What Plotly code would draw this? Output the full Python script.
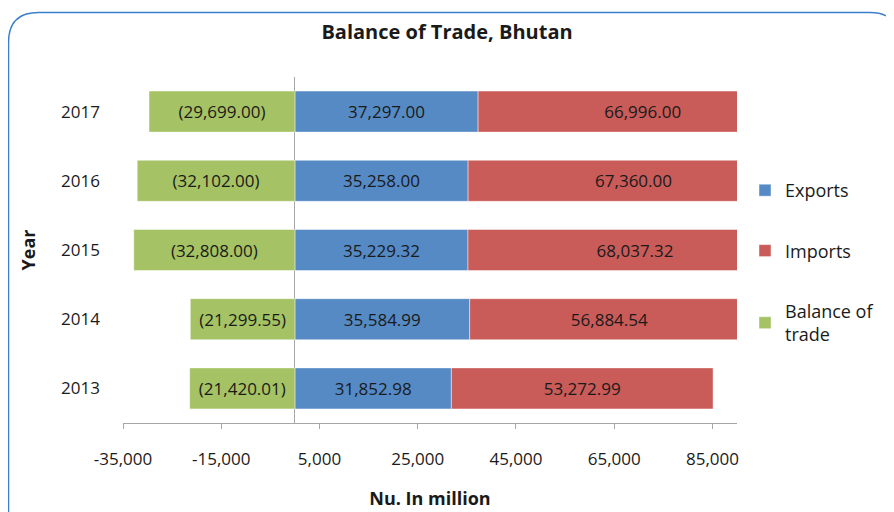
import plotly.graph_objects as go

years = ["2013", "2014", "2015", "2016", "2017"]
exports = [31852.98, 35584.99, 35229.32, 35258.00, 37297.00]
imports = [53272.99, 56884.54, 68037.32, 67360.00, 66996.00]
balance = [-21420.01, -21299.55, -32808.00, -32102.00, -29699.00]
x_tickvals = [-35000, -15000, 5000, 25000, 45000, 65000, 85000]
x_ticktext = ["-35,000", "-15,000", "5,000", "25,000", "45,000", "65,000", "85,000"]


def fmt(v):
    s = f"{abs(v):,.2f}"
    return f"({s})" if v < 0 else s


FONT = "Open Sans"
TXT = "#1a1a1a"

# the page body has an 8px margin; layout is planned in window pixels
OFF = 8
W, H = 894, 512
ML, MR, MT, MB = 123 - OFF, 157 + OFF, 77 - OFF, 89 + OFF
PW, PH = W - ML - MR, H - MT - MB

fig = go.Figure()
series = [
    ("Exports", exports, "#558AC5"),
    ("Imports", imports, "#C95B58"),
    ("Balance of<br>trade", balance, "#A5C264"),
]
for i, (name, vals, col) in enumerate(series):
    fig.add_trace(go.Bar(
        y=years, x=vals, orientation="h", name=name,
        marker=dict(color=col, line=dict(color="rgba(255,255,255,0.45)", width=1)),
        text=[fmt(v) for v in vals], textposition="inside",
        insidetextanchor="middle", textangle=0, constraintext="none",
        textfont=dict(family=FONT, size=17, color=TXT),
        legendgroup=f"g{i}", cliponaxis=True,
    ))


def px(wx):
    return (wx - OFF - ML) / PW


def py(wy):
    return (H - MB - (wy - OFF)) / PH


# rounded frame (visible part: left side, top, top-right corner)
L, T, r = 8.5, 12.5, 30
cx = 870.0
path = (
    f"M {px(L)},{py(H + OFF - 1)} L {px(L)},{py(T + r)} "
    f"Q {px(L)},{py(T)} {px(L + r)},{py(T)} "
    f"L {px(cx)},{py(T)} Q {px(cx + 18)},{py(T)} {px(W)},{py(T + 11)}"
)
fig.add_shape(type="path", path=path, xref="paper", yref="paper",
              line=dict(color="#3A7FCB", width=1.5), layer="above")

fig.update_layout(
    width=W, height=H,
    margin=dict(l=ML, r=MR, t=MT, b=MB),
    paper_bgcolor="white", plot_bgcolor="white",
    barmode="relative", bargap=0.407,
    font=dict(family=FONT, color=TXT),
    title=dict(text="<b>Balance of Trade, Bhutan</b>", x=(447 - OFF) / W, xref="container",
               xanchor="center",
               y=1 - (32 - OFF) / H, yref="container", yanchor="middle",
               font=dict(family=FONT, size=20, color=TXT)),
    legend=dict(x=px(745), xanchor="left", y=py(172), yanchor="top",
                traceorder="grouped", tracegroupgap=34,
                font=dict(family=FONT, size=18, color=TXT),
                bgcolor="rgba(0,0,0,0)"),
    xaxis=dict(range=[-35000, 90000], tickvals=x_tickvals, ticktext=x_ticktext,
               showgrid=False, zeroline=True, zerolinecolor="#A6A6A6", zerolinewidth=1,
               showline=True, linecolor="#A6A6A6", linewidth=1,
               ticks="outside", ticklen=5, tickcolor="#A6A6A6",
               tickfont=dict(family=FONT, size=17, color=TXT),
               ticklabelstandoff=16,
               title=dict(text="<b>Nu. In million</b>", standoff=22,
                          font=dict(family=FONT, size=18, color=TXT))),
    yaxis=dict(categoryorder="array", categoryarray=years,
               showgrid=False, zeroline=False, showline=False, ticks="",
               tickfont=dict(family=FONT, size=17, color=TXT),
               ticklabelstandoff=22,
               title=dict(text="<b>Year</b>", standoff=20,
                          font=dict(family=FONT, size=18, color=TXT))),
)

fig.write_html("out.html", config={"displayModeBar": False})
